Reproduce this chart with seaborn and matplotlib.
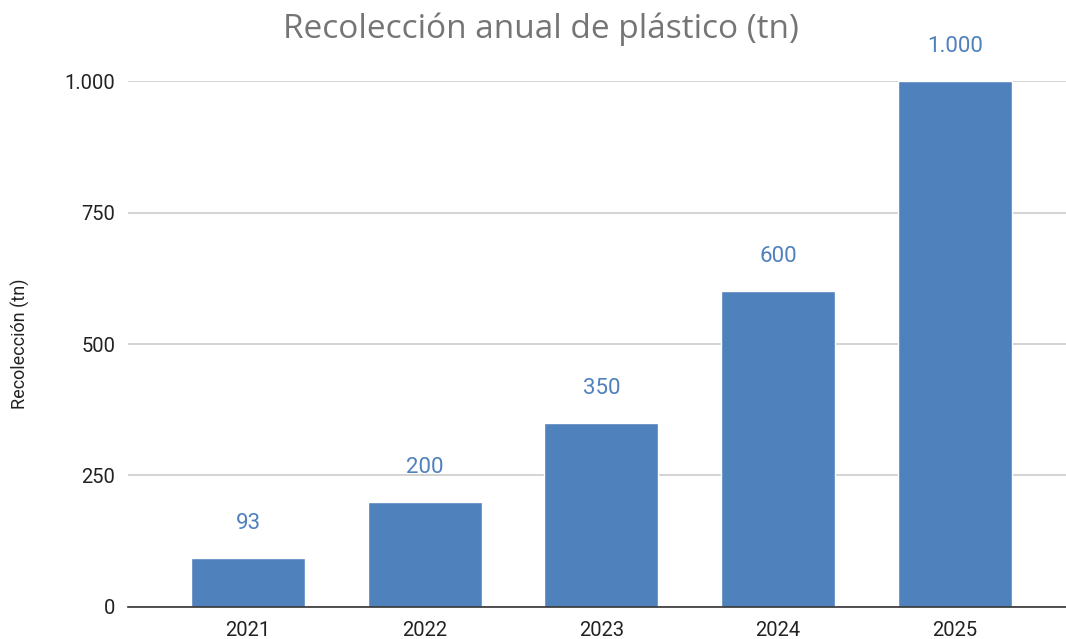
import matplotlib
matplotlib.use("Agg")
import matplotlib.pyplot as plt
import seaborn as sns
import pandas as pd

years = ["2021", "2022", "2023", "2024", "2025"]
recoleccion = [93, 200, 350, 600, 1000]
y_ticks = [0, 250, 500, 750, 1000]

BAR = "#4f81bd"

def fmt(v):
    return f"{v:,.0f}".replace(",", ".")

sns.set_theme(style="white")
plt.rcParams["font.family"] = ["Roboto", "DejaVu Sans"]

df = pd.DataFrame({"anio": years, "valor": recoleccion})

fig = plt.figure(figsize=(10.66, 6.39), dpi=100)
ax = fig.add_axes([0.12, 0.0501, 0.88, 0.8231])

sns.barplot(data=df, x="anio", y="valor", color=BAR, width=0.645,
            saturation=1, ax=ax, zorder=3)

ax.set_xlim(-0.68, 4.63)
ax.set_ylim(0, 1000)
ax.set_yticks(y_ticks)
ax.set_yticklabels([fmt(v) for v in y_ticks])
ax.yaxis.grid(True, color="#c8c8c8", linewidth=1.1, zorder=0)
ax.set_axisbelow(True)
for s in ["top", "right", "left"]:
    ax.spines[s].set_visible(False)
ax.spines["bottom"].set_color("#333333")
ax.spines["bottom"].set_linewidth(1.2)
ax.spines["bottom"].set_zorder(4)
ax.tick_params(axis="both", length=0, labelsize=14.5, labelcolor="#222222")
ax.tick_params(axis="y", pad=9)
ax.tick_params(axis="x", pad=10)
ax.set_xlabel("")
ax.set_ylabel("Recolección (tn)", fontsize=13, color="#222222")
ax.yaxis.set_label_coords(-0.104, 0.5)

for i, v in enumerate(recoleccion):
    ax.annotate(fmt(v), (i, v), xytext=(0, 25), textcoords="offset points",
                ha="center", va="center", fontsize=16, color=BAR,
                annotation_clip=False)

fig.text(0.5075, 0.955, "Recolección anual de plástico (tn)",
         ha="center", va="center", fontsize=24, color="#757575",
         family=["Open Sans", "DejaVu Sans"])

fig.savefig("out.png", dpi=100)
